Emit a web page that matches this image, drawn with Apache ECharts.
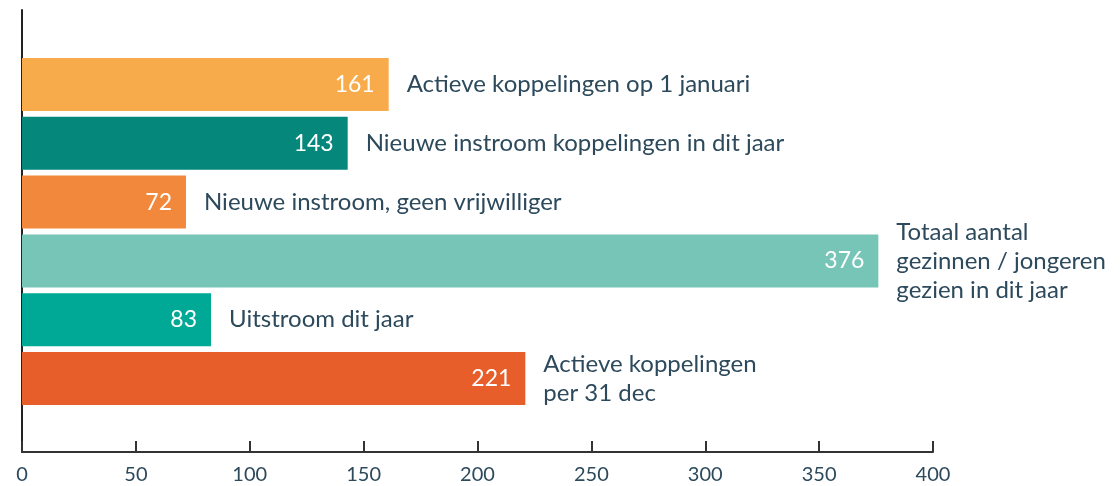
<!DOCTYPE html>
<html><head><meta charset="utf-8">
<script src="https://cdn.jsdelivr.net/npm/echarts@6/dist/echarts.min.js"></script>
<style>html,body{margin:0;padding:0;background:#fff}#c{width:1120px;height:486px}</style>
</head><body><div id="c"></div>
<script>
const categories = ['Actieve koppelingen op 1 januari','Nieuwe instroom koppelingen in dit jaar','Nieuwe instroom, geen vrijwilliger','Totaal aantal\ngezinnen / jongeren\ngezien in dit jaar','Uitstroom dit jaar','Actieve koppelingen\nper 31 dec'];
const values = [161,143,72,376,83,221];
const colors = ['#f7ab4a','#06877c','#f2883c','#76c5b7','#00a896','#e75e2a'];
const xTicks = [0,400,50];
const FONT = 'Lato';
const TXT = '#2d4a5c';
const chart = echarts.init(document.getElementById('c'));
chart.setOption({
  animation:false,
  grid:[
    {left:22,right:187,top:10,bottom:34},
    {left:22,right:187,top:55,bottom:78}
  ],
  xAxis:[
    {gridIndex:0,type:'value',min:xTicks[0],max:xTicks[1],interval:xTicks[2],
     axisLine:{show:true,lineStyle:{color:'#333',width:2}},
     axisTick:{show:true,inside:true,length:11,lineStyle:{color:'#333',width:2}},
     splitLine:{show:false},
     axisLabel:{color:TXT,fontFamily:FONT,fontSize:20,margin:13}},
    {gridIndex:1,type:'value',min:xTicks[0],max:xTicks[1],show:false}
  ],
  yAxis:[
    {gridIndex:0,type:'category',data:[''],axisLine:{show:true,lineStyle:{color:'#222',width:2}},axisTick:{show:false},axisLabel:{show:false}},
    {gridIndex:1,type:'category',inverse:true,data:categories,show:false}
  ],
  series:[
    {type:'bar',xAxisIndex:1,yAxisIndex:1,barWidth:53,
     data:values.map((v,i)=>({value:v,itemStyle:{color:colors[i]}})),
     label:{show:true,position:'insideRight',distance:14,color:'#fff',fontFamily:FONT,fontSize:23}},
    {type:'bar',xAxisIndex:1,yAxisIndex:1,barWidth:53,barGap:'-100%',
     data:values,itemStyle:{color:'rgba(0,0,0,0)'},silent:true,
     label:{show:true,position:'right',distance:18,color:TXT,fontFamily:FONT,fontSize:24,lineHeight:29,
       formatter:p=>categories[p.dataIndex]}}
  ]
});
</script></body></html>
